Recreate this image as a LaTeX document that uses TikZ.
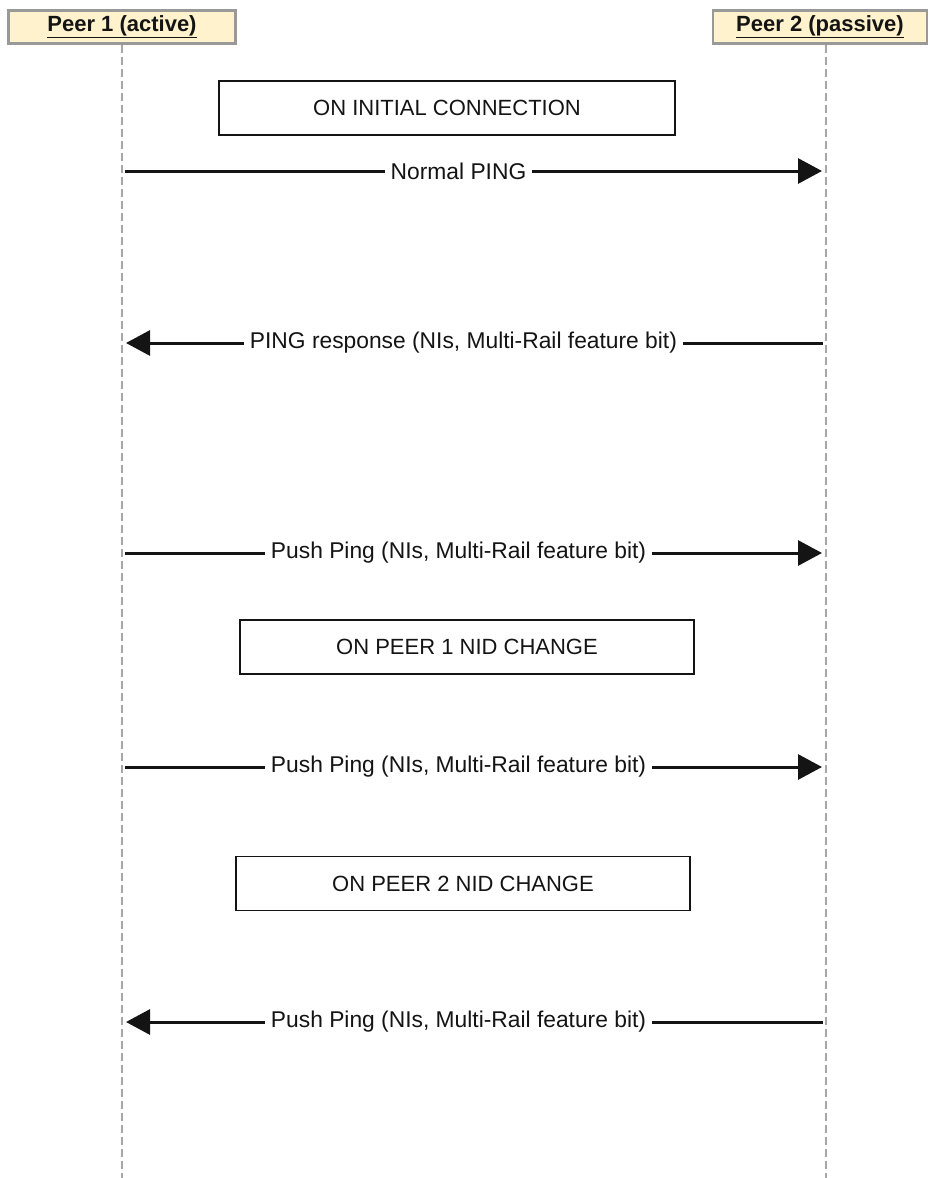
\documentclass[tikz,border=0pt]{standalone}
\usepackage{fontspec}
\setmainfont{Liberation Sans}
\usetikzlibrary{arrows.meta}
\definecolor{gelbl}{HTML}{FFF2CC}
\definecolor{grau}{HTML}{999999}
\definecolor{hgrau}{HTML}{A6A6A6}
\definecolor{schwarz}{HTML}{141414}
\tikzset{
  kopf/.style={draw=grau,fill=gelbl,line width=2.5pt,minimum height=33pt,inner sep=0pt,text=schwarz,font=\fontsize{22}{26}\selectfont\bfseries},
  linie/.style={hgrau,line width=2pt,dash pattern=on 8pt off 4pt},
  nachr/.style={-{Triangle[length=24pt,width=25pt]},schwarz,line width=3pt,shorten >=4pt,shorten <=3pt},
  marke/.style={fill=white,text=schwarz,inner xsep=6pt,inner ysep=1pt,font=\fontsize{22.8}{26}\selectfont},
  ereig/.style={draw=schwarz,line width=1.5pt,minimum height=54pt,text=schwarz,font=\fontsize{22}{26}\selectfont},
}

\begin{document}
\begin{tikzpicture}[x=1pt,y=-1pt]
  \useasboundingbox (0,0) rectangle (928,1178);
  % Lebenslinien
  \coordinate (a) at (122,1178);
  \coordinate (b) at (826,1178);
  \node[kopf,minimum width=227pt] (p1) at (122,27) {\underline{Peer 1 (active)}};
  \node[kopf,minimum width=214pt] (p2) at (820,27) {\underline{Peer 2 (passive)}};
  \draw[linie] (p1.south -| a)--(a);
  \draw[linie] (p2.south -| b)--(b);
  % Ereignisse
  \node[ereig,minimum width=456pt] (e1) at (447,108) {ON INITIAL CONNECTION};
  \node[ereig,minimum width=454pt] (e2) at (467,647) {ON PEER 1 NID CHANGE};
  \node[ereig,minimum width=454pt] (e3) at (463,883.5) {ON PEER 2 NID CHANGE};
  % Nachrichten
  \coordinate (a1) at (122,171);  \coordinate (b1) at (826,171);
  \coordinate (a2) at (122,343);  \coordinate (b2) at (826,343);
  \coordinate (a3) at (122,553);  \coordinate (b3) at (826,553);
  \coordinate (a4) at (122,767);  \coordinate (b4) at (826,767);
  \coordinate (a5) at (122,1022); \coordinate (b5) at (826,1022);
  \draw[nachr] (a1)--(b1) node[marke,pos=0.478]{Normal PING};
  \draw[nachr] (b2)--(a2) node[marke,pos=0.515]{PING response (NIs, Multi-Rail feature bit)};
  \draw[nachr] (a3)--(b3) node[marke,pos=0.478]{Push Ping (NIs, Multi-Rail feature bit)};
  \draw[nachr] (a4)--(b4) node[marke,pos=0.478]{Push Ping (NIs, Multi-Rail feature bit)};
  \draw[nachr] (b5)--(a5) node[marke,pos=0.522]{Push Ping (NIs, Multi-Rail feature bit)};
\end{tikzpicture}
\end{document}
